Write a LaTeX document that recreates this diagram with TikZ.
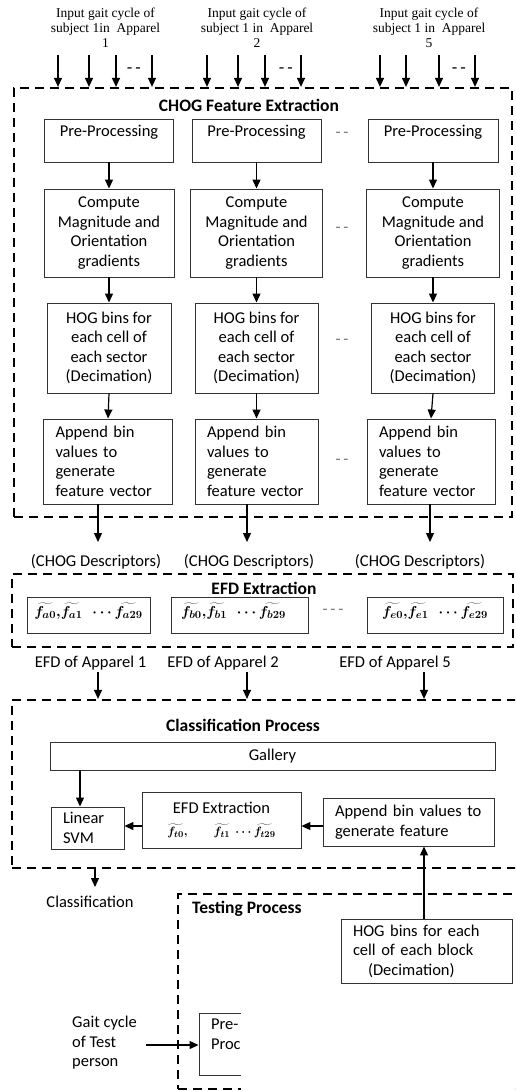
\documentclass[tikz,border=0pt]{standalone}
\usepackage{fontspec}
\setmainfont{Carlito}
\newfontfamily\serifff{Liberation Serif}
\usetikzlibrary{arrows.meta}
\begin{document}
\begin{tikzpicture}[x=1pt,y=-1pt,
  every node/.style={font=\fontsize{16.5}{19.5}\selectfont, inner sep=0pt},
  box/.style={draw=black!80, line width=0.9pt, align=center},
  lbox/.style={draw=black!80, line width=0.9pt, align=left, inner xsep=12pt, text width=#1},
  grp/.style={draw, line width=2.2pt, dash pattern=on 9pt off 6pt},
  arr/.style={line width=1.2pt, -{Triangle[width=8pt,length=9pt]}},
  ttl/.style={font=\fontsize{17.5}{20}\selectfont\bfseries},
  intxt/.style={font=\serifff\fontsize{13.5}{15}\selectfont, align=center},
  dd/.style={text=black!55},
  fml/.style={font=\fontsize{15.5}{18}\selectfont\boldmath, text depth=11pt},
]
\clip (0,0) rectangle (515,1091);

% ---------- top inputs ----------
\node[intxt] (in1) at (105.5,28) {Input gait cycle of\\subject 1in\ \ Apparel\\1};
\node[intxt] (in2) at (257,28) {Input gait cycle of\\subject 1 in\ \ Apparel\\2};
\node[intxt] (in3) at (429,28) {Input gait cycle of\\subject 1 in\ \ Apparel\\5};

% ---------- CHOG group ----------
\node[grp, minimum width=498, minimum height=429] (chog) at (263,302.5) {};
\node[ttl] (chogt) at (249,105) {CHOG Feature Extraction};

\foreach \x [count=\i] in {58,89,116,152,207,238,265,301,380,406,439,475}{
  \coordinate (t\i) at (\x,55);
  \draw[arr] (t\i) -- (t\i |- chog.north);
}
\node[font=\fontsize{18}{20}\selectfont] (td1) at (134,71) {-\,-};
\node[font=\fontsize{18}{20}\selectfont] (td2) at (286,71) {-\,-};
\node[font=\fontsize{18}{20}\selectfont] (td3) at (459,71) {-\,-};

% column 1
\node[box, minimum width=129, minimum height=43] (pp1) at (109,140.5) {Pre-Processing\\~};
\node[box, minimum width=130, minimum height=88] (cm1) at (109,233) {Compute\\Magnitude and\\Orientation\\gradients};
\node[box, minimum width=124, minimum height=90] (hg1) at (109,348) {HOG bins for\\each cell of\\each sector\\(Decimation)};
\node[lbox=105, minimum height=85] (ap1) at (108,461.5) {Append bin\\values to\\generate\\feature vector};
% column 2
\node[box, minimum width=129, minimum height=43] (pp2) at (256.5,140.5) {Pre-Processing\\~};
\node[box, minimum width=132, minimum height=88] (cm2) at (256.5,233) {Compute\\Magnitude and\\Orientation\\gradients};
\node[box, minimum width=123, minimum height=90] (hg2) at (256.5,348) {HOG bins for\\each cell of\\each sector\\(Decimation)};
\node[lbox=99, minimum height=85] (ap2) at (256.5,461.5) {Append bin\\values to\\generate\\feature vector};
% column 3
\node[box, minimum width=130, minimum height=43] (pp3) at (433,140.5) {Pre-Processing\\~};
\node[box, minimum width=133, minimum height=88] (cm3) at (433,233) {Compute\\Magnitude and\\Orientation\\gradients};
\node[box, minimum width=123, minimum height=90] (hg3) at (433,348) {HOG bins for\\each cell of\\each sector\\(Decimation)};
\node[lbox=104, minimum height=85] (ap3) at (431,461.5) {Append bin\\values to\\generate\\feature vector};

\foreach \c in {1,2,3}{
  \draw[arr] (pp\c.south) -- (cm\c.north);
  \draw[arr] (cm\c.south) -- (hg\c.north);
  \draw[arr] (hg\c.south) -- (ap\c.north);
}
\node[dd] (g1) at (342,135) {-\,-};
\node[dd] (g2) at (342,230) {-\,-};
\node[dd] (g3) at (342,342) {-\,-};
\node[dd] (g4) at (342,462) {-\,-};

% ---------- descriptors ----------
\coordinate (d1) at (98,542);
\coordinate (d2) at (247,542);
\coordinate (d3) at (430,542);
\draw[arr] (ap1.south -| d1) -- (d1);
\draw[arr] (ap2.south -| d2) -- (d2);
\draw[arr] (ap3.south -| d3) -- (d3);
\node (cd1) at (96,562) {(CHOG Descriptors)};
\node (cd2) at (249,562) {(CHOG Descriptors)};
\node (cd3) at (420,562) {(CHOG Descriptors)};

% ---------- EFD group ----------
\node[grp, minimum width=501, minimum height=73] (efd) at (262.5,610.5) {};
\node[ttl] (efdt) at (264,588) {EFD Extraction};
\node[box, minimum width=123, minimum height=36, fml] (fa) at (88.5,615) {$\widetilde{f_{a0}}{,}\widetilde{f_{a1}}\ \ \cdots\widetilde{f_{a29}}$};
\node[box, minimum width=137, minimum height=36, fml] (fb) at (239.5,615) {$\widetilde{f_{b0}}{,}\widetilde{f_{b1}}\ \ \cdots\widetilde{f_{b29}}$\hspace*{12pt}};
\node[box, minimum width=136, minimum height=36, fml] (fe) at (435,615) {$\widetilde{f_{e0}}{,}\widetilde{f_{e1}}\ \ \cdots\widetilde{f_{e29}}$};
\node[dd] (g5) at (333,612) {-\,-\,-};

\node (ea1) at (90.5,663) {EFD of Apparel 1};
\node (ea2) at (223,663) {EFD of Apparel 2};
\node (ea3) at (395,663) {EFD of Apparel 5};

% ---------- Classification group ----------
\node[grp, minimum width=528, minimum height=168] (cls) at (276,784) {};
\node[ttl] (clst) at (243,725) {Classification Process};
\coordinate (e1) at (98,672);
\coordinate (e2) at (247,672);
\coordinate (e3) at (424,672);
\foreach \c in {1,2,3}{ \draw[arr] (e\c) -- (e\c |- cls.north); }

\node[box, minimum width=445, minimum height=28] (gal) at (272.5,756) {Gallery};
\node[lbox=49, minimum height=42] (svm) at (87.5,828) {Linear\\SVM};
\node[box, minimum width=159, minimum height=56] (efdc) at (221.5,820) {EFD Extraction\\[3pt]{\fontsize{12.5}{14}\selectfont\boldmath$\widetilde{f_{t0}}{,}\hspace{26pt}\widetilde{f_{t1}}\ \cdots\widetilde{f_{t29}}$}};
\node[lbox=147, minimum height=48] (app) at (408.5,822) {Append bin values to\\generate feature};

\coordinate (gx) at (80,0);
\coordinate (hy) at (0,826);
\draw[arr] (gal.south -| gx) -- (svm.north -| gx);
\draw[arr] (app.west |- hy) -- (efdc.east |- hy);
\draw[arr] (efdc.west |- hy) -- (svm.east |- hy);

\coordinate (c1) at (95,887);
\draw[arr] (cls.south -| c1) -- (c1);
\node (clf) at (90,902) {Classification};

% ---------- Testing group ----------
\node[grp, minimum width=362, minimum height=195] (tst) at (359,991.5) {};
\node[ttl, anchor=west] (tstt) at (192,909) {Testing Process};
\node[lbox=147, minimum height=64] (hogt) at (426.5,951) {HOG bins for each\\cell of each block\\\hspace*{15pt}(Decimation)};
\coordinate (hx) at (424,0);
\draw[arr] (hogt.north -| hx) -- (app.south -| hx);

\node[lbox=80, minimum height=62] (pre) at (251,1044) {Pre-\\Processing\\~};
\node[align=left, anchor=west] (gcy) at (72,1043) {Gait cycle\\of Test\\person};
\coordinate (gs) at (146,1045);
\draw[arr] (gs) -- (gs -| pre.west);

% cropped region of the source figure
\fill[white] (241,993) rectangle (520,1095);
\end{tikzpicture}
\end{document}
